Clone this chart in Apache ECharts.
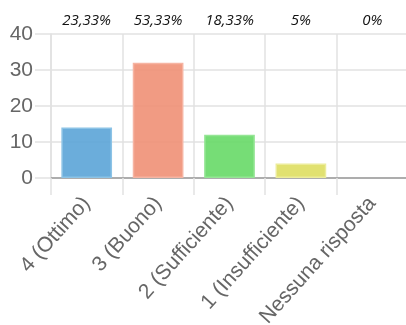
<!DOCTYPE html>
<html>
<head>
<meta charset="utf-8">
<script src="https://cdn.jsdelivr.net/npm/echarts@6/dist/echarts.min.js"></script>
<style>
  html, body { margin: 0; padding: 0; background: #fff; }
  #chart { width: 406px; height: 325px; }
</style>
</head>
<body>
<div id="chart"></div>
<script>
// Survey answers: number of responses per rating
const categories = ['4 (Ottimo)', '3 (Buono)', '2 (Sufficiente)', '1 (Insufficiente)', 'Nessuna risposta'];
const counts = [14, 32, 12, 4, 0];
const percentLabels = ['23,33%', '53,33%', '18,33%', '5%', '0%'];
const yTicks = [0, 10, 20, 30, 40];

const fills = ['rgba(94,166,216,0.92)', 'rgba(240,146,120,0.92)', 'rgba(106,218,106,0.92)', 'rgba(222,222,100,0.92)', 'rgba(200,200,200,0.92)'];
const borders = ['#8cc3e6', '#f6b4a2', '#95e595', '#ecec9a', '#ddd'];

const chart = echarts.init(document.getElementById('chart'), null, { renderer: 'canvas' });

chart.setOption({
  animation: false,
  grid: {
    left: 51, top: 34, width: 357, height: 144,
    containLabel: false,
    outerBoundsMode: 'none'
  },
  xAxis: [
    {
      type: 'category',
      data: categories,
      boundaryGap: true,
      axisLine: { show: true, lineStyle: { color: '#999', width: 1.5 } },
      axisTick: { show: true, length: 17, alignWithLabel: false, lineStyle: { color: '#e2e2e2', width: 1.5 } },
      splitLine: { show: true, lineStyle: { color: '#e2e2e2', width: 1.5 } },
      axisLabel: {
        rotate: 48,
        interval: 0,
        margin: 22,
        color: '#666',
        fontFamily: 'Liberation Sans, Arial, sans-serif',
        fontSize: 21
      }
    },
    {
      type: 'category',
      position: 'top',
      data: percentLabels,
      axisLine: { show: false },
      axisTick: { show: false },
      splitLine: { show: false },
      axisLabel: {
        interval: 0,
        margin: 6,
        color: '#111',
        fontStyle: 'italic',
        fontFamily: 'Open Sans, DejaVu Sans, sans-serif',
        fontSize: 15
      }
    }
  ],
  yAxis: {
    type: 'value',
    min: yTicks[0],
    max: yTicks[yTicks.length - 1],
    interval: 10,
    axisLine: { show: true, lineStyle: { color: '#e2e2e2', width: 1.5 } },
    axisTick: { show: true, length: 16, lineStyle: { color: '#e2e2e2', width: 1.5 } },
    splitLine: { show: true, lineStyle: { color: '#e2e2e2', width: 1.5 } },
    axisLabel: {
      margin: 18,
      color: '#666',
      fontFamily: 'Liberation Sans, Arial, sans-serif',
      fontSize: 21
    }
  },
  series: [
    {
      type: 'bar',
      xAxisIndex: 0,
      barCategoryGap: '29%',
      data: counts.map((v, i) => ({
        value: v,
        itemStyle: {
          color: fills[i],
          borderColor: borders[i],
          borderWidth: v > 0 ? 1.5 : 0
        }
      }))
    }
  ]
});
</script>
</body>
</html>
